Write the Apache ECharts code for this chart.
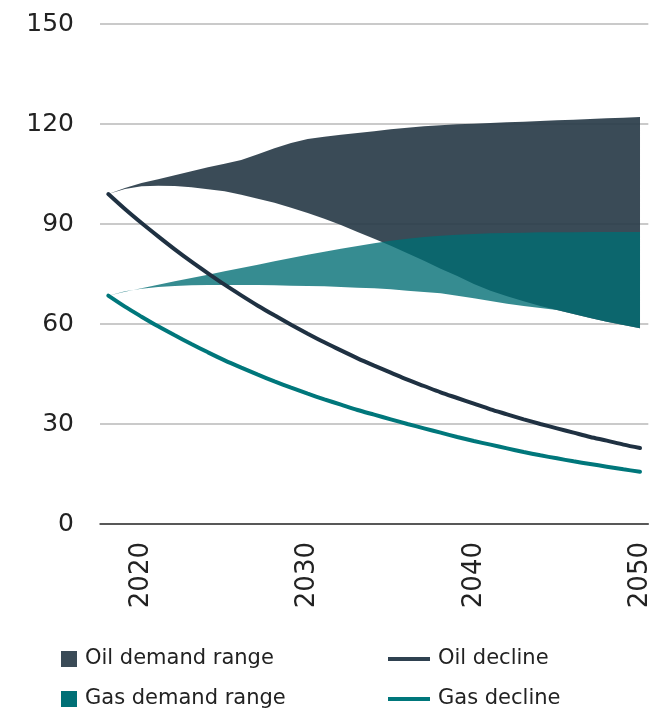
<!DOCTYPE html>
<html>
<head>
<meta charset="utf-8">
<script src="https://cdn.jsdelivr.net/npm/echarts@6/dist/echarts.min.js"></script>
<style>
html,body{margin:0;padding:0;background:#fff;}
#chart{width:653px;height:710px;}
</style>
</head>
<body>
<div id="chart"></div>
<script>
var years = [2018,2019,2020,2021,2022,2023,2024,2025,2026,2027,2028,2029,2030,2031,2032,2033,2034,2035,2036,2037,2038,2039,2040,2041,2042,2043,2044,2045,2046,2047,2048,2049,2050];
var yTicks = [0,30,60,90,120,150];

var oilUpper = [99,100.8,102.3,103.4,104.6,105.8,107,108.1,109.2,110.9,112.7,114.3,115.5,116.2,116.8,117.3,117.8,118.4,118.9,119.3,119.6,119.9,120.1,120.3,120.5,120.7,120.9,121.1,121.3,121.5,121.7,121.9,122.1];
var oilLower = [99,100.5,101.3,101.5,101.4,101.0,100.4,99.8,98.8,97.6,96.4,94.9,93.3,91.6,89.7,87.6,85.6,83.5,81.2,79.0,76.6,74.4,72.0,70.0,68.3,66.8,65.4,64.2,63.0,61.8,60.7,59.7,58.7];
var gasUpper = [68.5,69.7,70.7,71.8,72.8,73.8,74.8,75.8,76.8,77.8,78.8,79.8,80.8,81.7,82.6,83.4,84.2,85.0,85.6,86.1,86.5,86.8,87.0,87.2,87.3,87.4,87.5,87.5,87.5,87.6,87.6,87.6,87.6];
var gasLower = [68.5,69.8,70.6,71.1,71.4,71.6,71.7,71.7,71.7,71.7,71.6,71.5,71.4,71.3,71.1,70.9,70.7,70.4,70.0,69.6,69.2,68.5,67.7,66.9,66.1,65.4,64.8,64.2,63.0,61.8,60.7,59.7,58.7];
var oilDecline = [99,94.5,90.3,86.3,82.4,78.7,75.2,71.8,68.6,65.5,62.6,59.8,57.1,54.5,52.1,49.7,47.5,45.4,43.3,41.4,39.5,37.8,36.1,34.4,32.9,31.4,30.0,28.7,27.4,26.1,25.0,23.8,22.8];
var gasDecline = [68.5,65.2,62.2,59.3,56.6,54.0,51.5,49.1,46.9,44.8,42.8,40.9,39.1,37.4,35.8,34.2,32.8,31.4,30.0,28.7,27.4,26.1,24.9,23.8,22.7,21.6,20.6,19.7,18.8,18.0,17.2,16.4,15.7];

var seriesNames = ['Oil demand range','Gas demand range','Oil decline','Gas decline'];

var FONT = 'DejaVu Sans';
var legendText = {fontFamily:FONT, fontSize:21, color:'#222', lineHeight:24, padding:[0,0,0,3]};
function legendItem(name, left, top, w, h, color){
  return {
    data:[{name:name, itemStyle:{color:color}}],
    orient:'horizontal', left:left, top:top, padding:0,
    itemWidth:w, itemHeight:h, icon:'rect',
    textStyle:legendText, selectedMode:false
  };
}
function bandRenderer(upper, lower, fill, opacity){
  return function(params, api){
    var pts = [];
    for (var i = 0; i < upper.length; i++) pts.push(api.coord([i, upper[i]]));
    for (var j = lower.length - 1; j >= 0; j--) pts.push(api.coord([j, lower[j]]));
    return {type:'polygon', shape:{points:pts}, style:{fill:fill, opacity:opacity}};
  };
}
var chart = echarts.init(document.getElementById('chart'), null, {renderer:'canvas'});
chart.setOption({
  animation:false,
  backgroundColor:'#ffffff',
  grid:{left:100, right:4, top:24, bottom:186},
  xAxis:{
    type:'category',
    data:years.map(String),
    boundaryGap:true,
    axisTick:{show:false},
    axisLine:{show:true, lineStyle:{color:'#333', width:1.5}},
    axisLabel:{
      rotate:90, margin:18, fontFamily:FONT, fontSize:26, color:'#222',
      interval:function(i, v){ return (+v) % 10 === 0; }
    },
    splitLine:{show:false}
  },
  yAxis:{
    type:'value', min:yTicks[0], max:yTicks[yTicks.length-1], interval:30,
    axisLine:{show:false}, axisTick:{show:false},
    axisLabel:{margin:26, fontFamily:FONT, fontSize:25, color:'#222'},
    splitLine:{lineStyle:{color:'#b8b8b8', width:1.5}}
  },
  legend:[
    legendItem(seriesNames[0], 61, 647, 16, 16, '#3a4b57'),
    legendItem(seriesNames[1], 61, 687, 16, 16, '#007076'),
    legendItem(seriesNames[2], 388, 647, 42, 4, '#2f4150'),
    legendItem(seriesNames[3], 388, 687, 42, 4, '#00777b')
  ],
  series:[
    {name:seriesNames[0], type:'custom', data:[[0, oilUpper[0]]], color:'#3a4b57', silent:true, z:1, clip:true,
     renderItem:bandRenderer(oilUpper, oilLower, '#2b3d4a', 0.93)},
    {name:seriesNames[1], type:'custom', data:[[0, gasUpper[0]]], color:'#007076', silent:true, z:2, clip:true,
     renderItem:bandRenderer(gasUpper, gasLower, '#006d74', 0.79)},
    {name:seriesNames[2], type:'line', data:oilDecline, symbol:'none', showSymbol:false, smooth:0.3, color:'#1f3142',
     lineStyle:{color:'#1f3142', width:4, cap:'round'}, z:3},
    {name:seriesNames[3], type:'line', data:gasDecline, symbol:'none', showSymbol:false, smooth:0.3, color:'#00777b',
     lineStyle:{color:'#00777b', width:4, cap:'round'}, z:3}
  ]
});
</script>
</body>
</html>
